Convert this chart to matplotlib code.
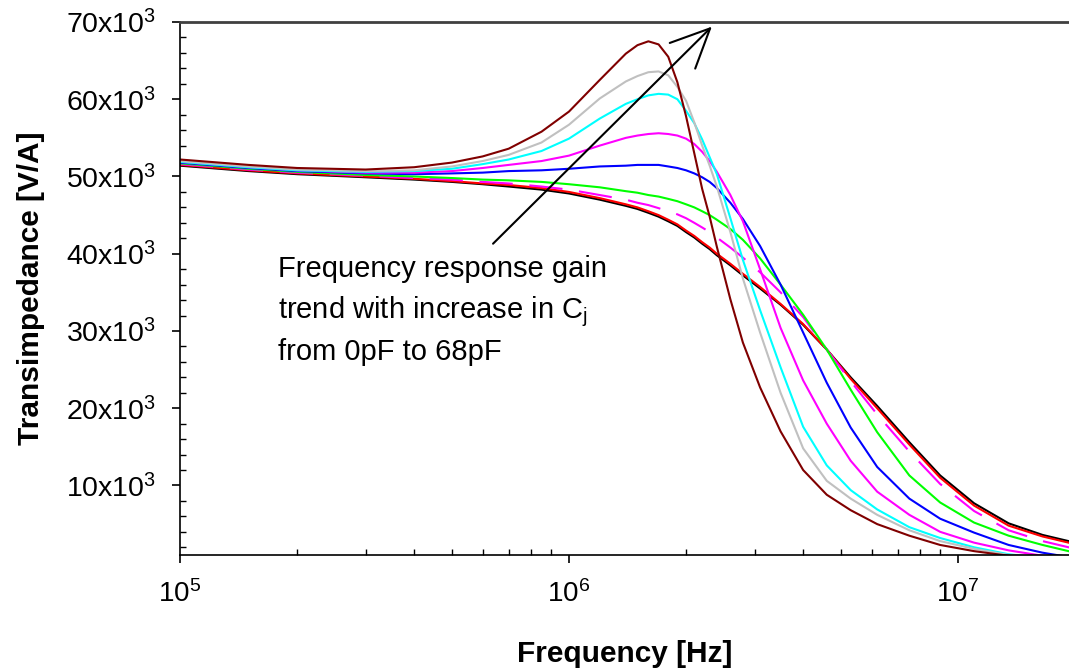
import matplotlib.pyplot as plt
import numpy as np

# ------------------------------------------------------------------
# style
# ------------------------------------------------------------------
plt.rcParams['font.family'] = ['Liberation Sans', 'DejaVu Sans']
plt.rcParams['mathtext.fontset'] = 'custom'
plt.rcParams['mathtext.rm'] = 'Liberation Sans'
plt.rcParams['mathtext.it'] = 'Liberation Sans:italic'
plt.rcParams['mathtext.bf'] = 'Liberation Sans:bold'

# ------------------------------------------------------------------
# data, transimpedance in 10^3 V/A
# ------------------------------------------------------------------
freq = [1e5, 1.5e5, 2e5, 3e5, 4e5, 5e5, 6e5, 7e5, 8.5e5, 1e6,
        1.2e6, 1.4e6, 1.5e6, 1.6e6, 1.7e6, 1.8e6, 1.9e6, 2e6, 2.1e6, 2.2e6,
        2.3e6, 2.4e6, 2.6e6, 2.8e6, 3.1e6, 3.5e6, 4e6, 4.6e6, 5.3e6, 6.2e6,
        7.5e6, 9e6, 1.1e7, 1.35e7, 1.65e7, 2e7]

z_black   = [51.4, 50.7, 50.3, 49.9, 49.6, 49.3, 49.0, 48.7, 48.3, 47.8,
             47.0, 46.2, 45.8, 45.3, 44.8, 44.2, 43.6, 42.8, 42.1, 41.3,
             40.6, 39.8, 38.5, 37.2, 35.5, 33.4, 30.8, 27.6, 24.0, 20.3,
             15.6, 11.3, 7.7, 5.1, 3.6, 2.6]
z_red     = [51.5, 50.8, 50.4, 50.0, 49.7, 49.4, 49.1, 48.9, 48.5, 48.0,
             47.2, 46.4, 46.0, 45.5, 45.0, 44.4, 43.8, 43.0, 42.3, 41.5,
             40.8, 40.0, 38.7, 37.4, 35.7, 33.5, 30.9, 27.6, 23.8, 20.0,
             15.3, 11.0, 7.4, 4.8, 3.4, 2.4]
z_dashed  = [51.6, 50.9, 50.5, 50.1, 49.8, 49.6, 49.3, 49.1, 48.7, 48.3,
             47.6, 47.0, 46.6, 46.3, 45.9, 45.5, 45.1, 44.6, 44.0, 43.4,
             42.8, 42.1, 40.8, 39.5, 37.6, 35.0, 31.8, 27.6, 23.5, 19.2,
             14.4, 10.2, 6.7, 4.2, 2.8, 1.8]
z_green   = [51.7, 51.0, 50.6, 50.2, 50.0, 49.8, 49.6, 49.5, 49.3, 49.0,
             48.6, 48.1, 47.9, 47.6, 47.4, 47.1, 46.8, 46.4, 46.0, 45.5,
             45.0, 44.4, 43.2, 41.8, 39.4, 36.0, 32.1, 27.6, 22.4, 16.9,
             11.3, 7.8, 5.2, 3.5, 2.3, 1.3]
z_blue    = [51.8, 51.1, 50.7, 50.4, 50.3, 50.4, 50.5, 50.7, 50.8, 51.0,
             51.3, 51.4, 51.5, 51.5, 51.5, 51.3, 51.1, 50.8, 50.4, 49.9,
             49.3, 48.5, 46.6, 44.5, 41.0, 36.0, 29.8, 23.3, 17.5, 12.4,
             8.3, 5.7, 3.9, 2.3, 1.3, 0.6]
z_magenta = [51.9, 51.2, 50.8, 50.5, 50.5, 50.7, 51.1, 51.5, 52.0, 52.7,
             54.0, 55.0, 55.3, 55.5, 55.6, 55.5, 55.3, 54.9, 54.2, 53.2,
             52.0, 50.6, 47.6, 44.2, 38.0, 30.4, 23.6, 18.0, 13.2, 9.2,
             6.2, 4.0, 2.6, 1.6, 0.9, 0.5]
z_cyan    = [51.9, 51.2, 50.8, 50.6, 50.7, 51.0, 51.6, 52.2, 53.3, 54.9,
             57.5, 59.4, 60.0, 60.5, 60.7, 60.6, 60.0, 58.5, 56.9, 54.8,
             52.5, 50.3, 44.6, 39.2, 32.7, 25.3, 17.6, 12.6, 9.4, 6.9,
             4.6, 3.2, 2.0, 1.1, 0.6, 0.3]
z_grey    = [52.0, 51.3, 50.9, 50.7, 50.8, 51.3, 52.0, 52.8, 54.4, 56.7,
             60.1, 62.3, 63.0, 63.5, 63.6, 63.1, 61.6, 59.8, 57.0, 54.0,
             51.4, 48.7, 42.8, 36.8, 29.8, 22.0, 14.8, 10.6, 8.3, 6.2,
             4.2, 2.8, 1.8, 1.0, 0.6, 0.3]
z_maroon  = [52.2, 51.5, 51.1, 50.9, 51.2, 51.8, 52.6, 53.6, 55.8, 58.4,
             62.5, 65.9, 67.0, 67.5, 67.1, 65.5, 62.2, 57.8, 53.0, 48.4,
             44.8, 40.9, 34.1, 28.5, 22.7, 17.0, 12.0, 8.8, 6.8, 5.0,
             3.5, 2.3, 1.5, 0.9, 0.5, 0.3]

yticks = [10e3, 20e3, 30e3, 40e3, 50e3, 60e3, 70e3]
ytick_labels = [r'%dx10$^\mathregular{3}$' % (v / 1e3) for v in yticks]
xticks = [1e5, 1e6, 1e7]
xtick_labels = [r'10$^\mathregular{5}$', r'10$^\mathregular{6}$', r'10$^\mathregular{7}$']

# ------------------------------------------------------------------
# figure
# ------------------------------------------------------------------
fig = plt.figure(figsize=(10.69, 6.70), dpi=100)
ax = fig.add_axes([180/1069, 1 - 555/670, 889/1069, 533/670])

f = np.array(freq)
lw = 1.5
ax.plot(f, np.array(z_black)*1e3,   color='black',   lw=lw)
ax.plot(f, np.array(z_red)*1e3,     color='#FF0000', lw=lw)
ax.plot(f, np.array(z_dashed)*1e3,  color='#FF00FF', lw=lw, ls=(0, (16, 8)))
ax.plot(f, np.array(z_green)*1e3,   color='#00FF00', lw=lw)
ax.plot(f, np.array(z_blue)*1e3,    color='#0000FF', lw=lw)
ax.plot(f, np.array(z_magenta)*1e3, color='#FF00FF', lw=lw)
ax.plot(f, np.array(z_cyan)*1e3,    color='#00FFFF', lw=lw)
ax.plot(f, np.array(z_grey)*1e3,    color='#C0C0C0', lw=lw)
ax.plot(f, np.array(z_maroon)*1e3,  color='#800000', lw=lw)

ax.set_xscale('log')
ax.set_xlim(1e5, 1.93e7)
ax.set_ylim(1000, 70000)

ax.set_xticks(xticks)
ax.set_xticklabels(xtick_labels, fontsize=20)
ax.set_yticks(yticks)
ax.set_yticklabels(ytick_labels, fontsize=20.5)
ax.set_yticks(np.arange(2000, 70000, 2000), minor=True)

ax.tick_params(which='major', direction='out', length=6, width=1.2, color='black')
ax.tick_params(which='minor', direction='in', length=4, width=1.0, color='black')
ax.tick_params(axis='x', which='major', pad=12)
ax.tick_params(axis='y', which='major', pad=11)

ax.spines['right'].set_visible(False)
ax.spines['top'].set_color('#404040')
ax.spines['top'].set_linewidth(2)
ax.spines['left'].set_linewidth(1.2)
ax.spines['bottom'].set_linewidth(1.2)

ax.set_xlabel('Frequency [Hz]', fontsize=21.5, fontweight='bold', labelpad=23)
ax.set_ylabel('Transimpedance [V/A]', fontsize=21.5, fontweight='bold', labelpad=15)

# trend arrow + text
ax.annotate('', xy=(2.33e6, 69400), xytext=(6.38e5, 41300),
            arrowprops=dict(arrowstyle='->,head_length=2.8,head_width=1.3',
                            lw=1.5, color='black', shrinkA=0, shrinkB=0))
ax.text(1.79e5, 39800,
        'Frequency response gain\ntrend with increase in C$_\\mathregular{j}$\nfrom 0pF to 68pF',
        fontsize=21, va='top', ha='left', linespacing=1.45)

fig.savefig('out.png', dpi=100)
